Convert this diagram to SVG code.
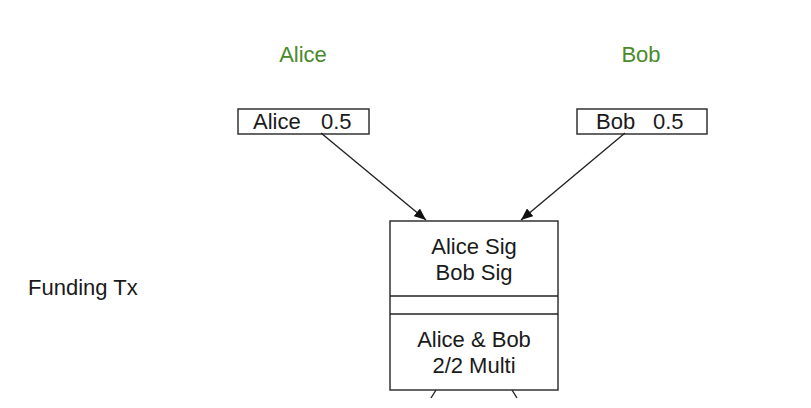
<svg xmlns="http://www.w3.org/2000/svg" width="811" height="408" viewBox="0 0 811 408">
<style>
text{font-family:"Liberation Sans",Arial,sans-serif;font-size:22px;fill:#1a1a1a}
.party{fill:#4a8a2c;text-anchor:middle}
.mid{text-anchor:middle}
.box{fill:#fff;stroke:#333;stroke-width:1.5}
.conn{stroke:#222;stroke-width:1.4;fill:none}
</style>
<defs>
<marker id="ah" viewBox="0 0 12 10" refX="12" refY="5" markerWidth="12" markerHeight="10" markerUnits="userSpaceOnUse" orient="auto">
<path d="M0,0 L12,5 L0,10 z" fill="#111"/>
</marker>
</defs>
<rect width="811" height="408" fill="#fff"/>
<g id="label-alice"><text class="party" x="303" y="62">Alice</text></g>
<g id="label-bob"><text class="party" x="641" y="62">Bob</text></g>
<g id="label-funding"><text x="28" y="295">Funding Tx</text></g>
<g id="alice-input">
<rect class="box" x="238" y="109" width="131" height="25"/>
<text x="253" y="129">Alice<tspan x="321">0.5</tspan></text>
</g>
<g id="bob-input">
<rect class="box" x="577" y="109" width="130" height="25"/>
<text x="596" y="129">Bob<tspan x="653">0.5</tspan></text>
</g>
<g id="funding-tx">
<rect class="box" x="390" y="221" width="168" height="169"/>
<line class="conn" x1="390" y1="296" x2="558" y2="296"/>
<line class="conn" x1="390" y1="314" x2="558" y2="314"/>
<text class="mid" x="474" y="254">Alice Sig</text>
<text class="mid" x="474" y="280">Bob Sig</text>
<text class="mid" x="474" y="347">Alice &amp; Bob</text>
<text class="mid" x="474" y="373">2/2 Multi</text>
</g>
<g id="connectors">
<line class="conn" x1="321" y1="133" x2="426" y2="220" marker-end="url(#ah)"/>
<line class="conn" x1="625" y1="133" x2="521" y2="220" marker-end="url(#ah)"/>
<line class="conn" x1="436" y1="390" x2="431" y2="398"/>
<line class="conn" x1="512" y1="390" x2="517" y2="398"/>
</g>
</svg>
